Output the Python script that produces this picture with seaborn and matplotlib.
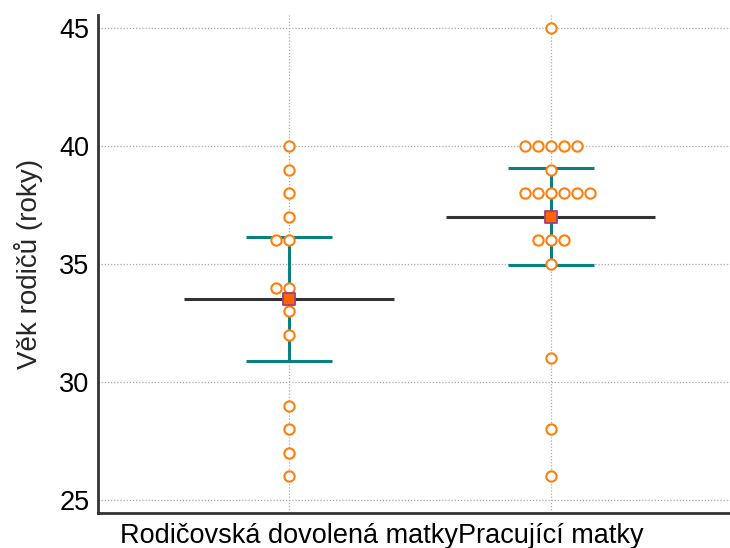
import numpy as np
import pandas as pd
import matplotlib
matplotlib.use("Agg")
import matplotlib.pyplot as plt
from matplotlib.collections import PathCollection
import seaborn as sns

categories = ["Rodičovská dovolená matky", "Pracující matky"]
leave_ages = [40, 39, 38, 37, 36, 36, 34, 34, 33, 32, 29, 28, 27, 26]
working_ages = [45, 40, 40, 40, 40, 40, 39, 38, 38, 38, 38, 38, 38,
                36, 36, 36, 35, 31, 28, 26]
t_crit = {14: 2.160, 20: 2.093}  # two-sided 95% t critical values (df = n-1)
y_ticks = [25, 30, 35, 40, 45]
y_label = "Věk rodičů (roky)"

df = pd.DataFrame({
    "group": [categories[0]] * len(leave_ages) + [categories[1]] * len(working_ages),
    "age": leave_ages + working_ages,
})

sns.set_style("white")
plt.rcParams["font.family"] = ["Liberation Sans", "DejaVu Sans"]

fig = plt.figure(figsize=(7.30, 5.48), dpi=100)
ax = fig.add_axes([0.134, 0.064, 0.866, 0.9086])

orange = "#ff7f0e"
teal = "#0a8080"

for i, vals in enumerate([leave_ages, working_ages]):
    v = np.array(vals, dtype=float)
    m = v.mean()
    half = t_crit[len(v)] * v.std(ddof=1) / np.sqrt(len(v))
    ax.hlines(m, i - 0.4, i + 0.4, color="#333333", lw=2.2, zorder=3)
    ax.errorbar(i, m, yerr=half, fmt="none", ecolor=teal, elinewidth=2.2,
                capsize=31, capthick=2.2, zorder=4)
    ax.scatter([i], [m], marker="s", s=72, facecolor="#ff6600",
               edgecolor="#a04080", linewidth=1.3, zorder=10)

n_before = len(ax.collections)
sns.swarmplot(data=df, x="group", y="age", order=categories, ax=ax,
              color="white", edgecolor=orange, linewidth=1.5, size=7.4,
              zorder=6)

ax.set_xlim(-0.73, 1.685)
ax.set_ylim(24.45, 45.55)

# center each row of equal values symmetrically, touching circles
gap = 0.0428
for c in ax.collections[n_before:]:
    if not isinstance(c, PathCollection):
        continue
    off = np.array(c.get_offsets(), dtype=float)
    if len(off) == 0:
        continue
    center = np.round(np.median(off[:, 0]))
    for yv in np.unique(off[:, 1]):
        idx = np.where(off[:, 1] == yv)[0]
        idx = idx[np.argsort(off[idx, 0])]
        n = len(idx)
        off[idx, 0] = center + (np.arange(n) - (n - 1) / 2) * gap
    c.set_offsets(off)

ax.set_yticks(y_ticks)
ax.set_xlabel("")
ax.set_ylabel(y_label, fontsize=20, labelpad=12)

ax.grid(True, axis="both", color="#aaaaaa", linestyle=(0, (1, 1.5)), linewidth=0.9)
ax.set_axisbelow(True)

for s in ["top", "right"]:
    ax.spines[s].set_visible(False)
for s in ["left", "bottom"]:
    ax.spines[s].set_color("#333333")
    ax.spines[s].set_linewidth(2.0)

ax.tick_params(axis="both", direction="in", length=8, width=2, color="#333333",
               labelsize=19.5, labelcolor="black")
ax.tick_params(axis="y", pad=6)
ax.tick_params(axis="x", pad=7)

fig.savefig("out.png", dpi=100)
